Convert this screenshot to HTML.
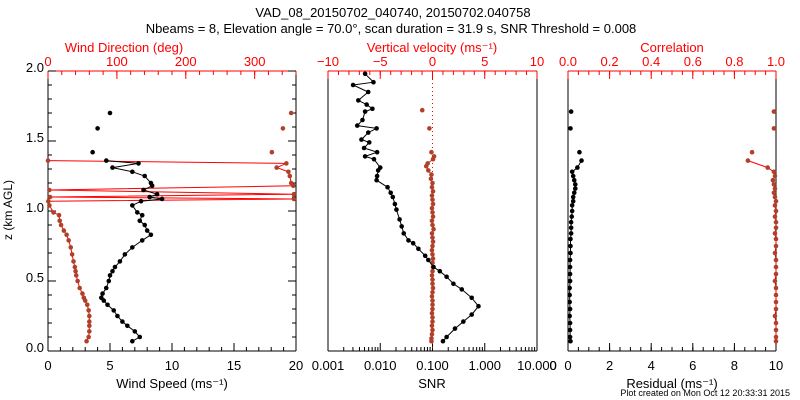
<!DOCTYPE html>
<html><head><meta charset="utf-8"><style>
body{margin:0;background:#fff}
svg{display:block;font-family:"Liberation Sans",sans-serif}
</style></head><body>
<svg id="c" width="800" height="400" viewBox="0 0 800 400">
<text x="393" y="17" font-size="13" text-anchor="middle">VAD_08_20150702_040740, 20150702.040758</text>
<text x="391" y="33" font-size="13" text-anchor="middle">Nbeams = 8, Elevation angle = 70.0°, scan duration = 31.9 s, SNR Threshold = 0.008</text>
<g id="g"></g>
<text x="790" y="396" font-size="9" text-anchor="end">Plot created on Mon Oct 12 20:33:31 2015</text>
</svg>
<script>
// Panel 1 data
const zWind=[0.07,0.1,0.14,0.18,0.21,0.25,0.29,0.33,0.36,0.38,0.41,0.45,0.5,0.54,0.57,0.6,0.64,0.69,0.74,0.79,0.83,0.86,0.9,0.93,0.97,0.99,1.04,1.07,1.086,1.10,1.12,1.15,1.18,1.20,1.25,1.28,1.31,1.34,1.36,1.42,1.59,1.70];
const windSpeed=[6.8,7.4,7.0,6.4,6.0,5.6,5.3,4.8,4.5,4.3,4.4,4.7,4.9,5.0,5.2,5.4,5.8,6.2,6.8,7.6,8.3,8.0,7.8,7.4,7.6,7.2,6.8,7.5,9.2,8.2,8.8,7.7,8.4,8.3,7.8,6.8,5.2,7.3,4.7,3.6,4.0,5.0];
const windDir=[56,59,60,60,60,60,59,57,54,52,50,46,43,41,40,39,37,35,33,30,27,23,19,17,16,8,2,0.5,357,3,357,2,356,353,351,349,332,346,0,325,341,353];
// Panel 2 data
const zSnr=[1.98,1.92,1.90,1.85,1.79,1.76,1.73,1.71,1.65,1.61,1.59,1.56,1.51,1.49,1.45,1.42,1.39,1.37,1.31,1.29,1.25,1.22,1.17,1.13,1.10,1.05,1.01,0.94,0.89,0.84,0.79,0.77,0.73,0.68,0.65,0.60,0.57,0.53,0.48,0.44,0.38,0.32,0.26,0.21,0.16,0.10,0.07];
const logSnr=[-2.29,-2.13,-2.52,-2.23,-2.42,-2.26,-2.15,-2.29,-2.34,-2.44,-2.07,-2.23,-2.36,-2.21,-2.31,-2.06,-2.29,-2.12,-2.0,-2.04,-2.06,-2.07,-1.86,-1.8,-1.76,-1.72,-1.69,-1.63,-1.59,-1.55,-1.46,-1.37,-1.27,-1.14,-1.08,-0.98,-0.86,-0.73,-0.6,-0.44,-0.25,-0.12,-0.25,-0.41,-0.57,-0.73,-0.8];
const zVel=[1.72,1.59,1.42,1.39,1.37,1.34,1.32,1.29,1.26,1.23,1.2,1.17,1.14,1.11,1.08,1.05,1.02,0.99,0.96,0.93,0.9,0.87,0.84,0.81,0.78,0.75,0.72,0.69,0.66,0.63,0.6,0.57,0.54,0.51,0.48,0.45,0.42,0.39,0.36,0.33,0.3,0.27,0.24,0.21,0.18,0.15,0.12,0.09,0.07];
const vertVel=[-0.98,-0.3,-0.1,0.15,0.05,-0.46,-0.6,-0.4,-0.1,-0.15,0,-0.05,0.05,-0.05,0,0.05,-0.05,0,0.05,-0.05,0,0.1,-0.05,0,0.05,0,-0.05,0,0.05,0,0.05,0,-0.05,0,0,0.05,0,-0.05,0,0,0,-0.05,0,0,-0.05,0,-0.05,-0.1,-0.1];
// Panel 3 data
const zRes=[1.71,1.59,1.42,1.36,1.31,1.28,1.25,1.22,1.19,1.16,1.13,1.1,1.07,1.04,1.0,0.96,0.92,0.88,0.84,0.8,0.75,0.7,0.65,0.6,0.55,0.5,0.45,0.4,0.35,0.3,0.25,0.2,0.15,0.1,0.07];
const residual=[0.15,0.12,0.55,0.65,0.45,0.2,0.25,0.3,0.35,0.35,0.3,0.25,0.25,0.2,0.2,0.18,0.15,0.15,0.15,0.12,0.12,0.12,0.1,0.1,0.1,0.1,0.08,0.08,0.08,0.1,0.08,0.1,0.1,0.1,0.12];
const correlation=[0.99,0.99,0.885,0.865,0.96,0.99,0.995,0.985,0.99,0.995,0.99,0.995,1.0,0.995,1.0,0.995,1.0,1.0,0.995,1.0,1.0,0.995,1.0,1.0,1.0,0.995,1.0,1.0,1.0,1.0,0.995,1.0,1.0,1.0,1.0];

const NS="http://www.w3.org/2000/svg",G=document.getElementById('g');
const BROWN="#b0402a",RED="#ff0000";
function el(t,a,p){const e=document.createElementNS(NS,t);for(const k in a)e.setAttribute(k,a[k]);(p||G).appendChild(e);return e;}
const Y0=351,Y1=71;
function yz(z){return Y0-(z-0)/2*(Y0-Y1);}
function lin(d0,d1,r0,r1){return v=>r0+(v-d0)/(d1-d0)*(r1-r0);}
function ticksX(sx,vals,y,dir,len,col,p){vals.forEach(v=>{const x=sx(v);el('line',{x1:x,x2:x,y1:y,y2:y+dir*len,stroke:col,'stroke-width':1},p);});}
function range(a,b,s){const r=[];for(let v=a;v<=b+1e-9;v+=s)r.push(+v.toFixed(6));return r;}
function frame(x0,x1,name){const g=el('g',{});
 el('line',{x1:x0,x2:x1,y1:Y0,y2:Y0,stroke:'#000'},g);el('line',{x1:x0,x2:x0,y1:Y0,y2:Y1,stroke:'#000'},g);el('line',{x1:x1,x2:x1,y1:Y0,y2:Y1,stroke:'#000'},g);
 el('line',{x1:x0,x2:x1,y1:Y1,y2:Y1,stroke:RED},g);return g;}
function label(x,y,s,col,anchor,name,size){const t=el('text',{x:x,y:y,'font-size':size||13,fill:col,'text-anchor':anchor||'middle'});t.textContent=s;return t;}
function series(xs,zs,sx,mcol,lcol,name,maxZ){const g=el('g',{});
 let d='';xs.forEach((v,i)=>{if(v==null||zs[i]>maxZ)return;d+=(d?'L':'M')+sx(v).toFixed(1)+','+yz(zs[i]).toFixed(1);});
 el('path',{d:d,fill:'none',stroke:lcol,'stroke-width':1},g);
 xs.forEach((v,i)=>{if(v==null)return;const c=el('circle',{cx:sx(v),cy:yz(zs[i]),r:2.3,fill:mcol},g);});}

// Panel 1
(function(){const x0=48,x1=296,g=frame(x0,x1,'wind-panel');
 const sS=lin(0,20,x0,x1),sD=lin(0,360,x0,x1);
 ticksX(sS,range(0,20,5),Y0,-1,8,'#000',g);ticksX(sS,range(0,20,1),Y0,-1,4,'#000',g);
 ticksX(sD,range(0,360,100),Y1,1,8,RED,g);ticksX(sD,range(0,360,20),Y1,1,4,RED,g);
 range(0,2,0.5).forEach(z=>{el('line',{x1:x0,x2:x0+8,y1:yz(z),y2:yz(z),stroke:'#000'},g);el('line',{x1:x1,x2:x1-8,y1:yz(z),y2:yz(z),stroke:'#000'},g);});
 range(0,2,0.1).forEach(z=>{el('line',{x1:x0,x2:x0+4,y1:yz(z),y2:yz(z),stroke:'#000'},g);el('line',{x1:x1,x2:x1-4,y1:yz(z),y2:yz(z),stroke:'#000'},g);});
 range(0,20,5).forEach(v=>label(sS(v),370,String(v),'#000','middle','x-tick-label'));
 [0,100,200,300].forEach(v=>label(sD(v),66,String(v),RED,'middle','top-tick-label'));
 range(0,2,0.5).forEach(z=>label(44,yz(z)+1,z.toFixed(1),'#000','end','y-tick-label'));
 label(172,388,'Wind Speed (ms\u207B\u00B9)','#000','middle','x-axis-title');
 label(124,52,'Wind Direction (deg)',RED,'middle','top-axis-title');
 const t=label(12,210,'z (km AGL)','#000','middle','y-axis-title',12);t.setAttribute('transform','rotate(-90 12 210)');
 series(windDir,zWind,sD,BROWN,RED,'wind-direction-series',1.37);
 series(windSpeed,zWind,sS,'#000','#000','wind-speed-series',1.37);
})();
// Panel 2
(function(){const x0=328,x1=537,g=frame(x0,x1,'snr-panel');
 const sL=lin(-3,1,x0,x1),sW=lin(-10,10,x0,x1);
 for(let d=-3;d<=1;d++){el('line',{x1:sL(d),x2:sL(d),y1:Y0,y2:Y0-8,stroke:'#000'},g);if(d<1)for(let k=2;k<10;k++){const x=sL(d+Math.log10(k));el('line',{x1:x,x2:x,y1:Y0,y2:Y0-4,stroke:'#000'},g);}}
 ticksX(sW,range(-10,10,5),Y1,1,8,RED,g);ticksX(sW,range(-10,10,1),Y1,1,4,RED,g);
 ['0.001','0.010','0.100','1.000','10.000'].forEach((s,i)=>label(sL(i-3),370,s,'#000','middle','x-tick-label'));
 [-10,-5,0,5,10].forEach(v=>label(sW(v),66,v<0?'\u2212'+(-v):String(v),RED,'middle','top-tick-label'));
 label(432,388,'SNR','#000','middle','x-axis-title');
 label(432,52,'Vertical velocity (ms\u207B\u00B9)',RED,'middle','top-axis-title');
 el('line',{x1:sW(0),x2:sW(0),y1:Y1,y2:Y0,stroke:RED,'stroke-dasharray':'1,3'},g);
 series(vertVel,zVel,sW,BROWN,BROWN,'vertical-velocity-series',1.4);
 series(logSnr,zSnr,sL,'#000','#000','snr-series',3);
})();
// Panel 3
(function(){const x0=568,x1=776,g=frame(x0,x1,'residual-panel');
 const sR=lin(0,10,x0,x1),sC=lin(0,1,x0,x1);
 ticksX(sR,range(0,10,2),Y0,-1,8,'#000',g);ticksX(sR,range(0,10,0.5),Y0,-1,4,'#000',g);
 ticksX(sC,range(0,1,0.2),Y1,1,8,RED,g);ticksX(sC,range(0,1,0.05),Y1,1,4,RED,g);
 label(553,370,'0','#000','middle','x-tick-label');
 range(0,10,2).forEach(v=>label(sR(v),370,String(v),'#000','middle','x-tick-label'));
 range(0,1,0.2).forEach(v=>label(sC(v),66,v.toFixed(1),RED,'middle','top-tick-label'));
 label(672,388,'Residual (ms\u207B\u00B9)','#000','middle','x-axis-title');
 label(672,52,'Correlation',RED,'middle','top-axis-title');
 series(correlation,zRes,sC,BROWN,RED,'correlation-series',1.37);
 series(residual,zRes,sR,'#000','#000','residual-series',1.37);
})();
</script>
</body></html>
